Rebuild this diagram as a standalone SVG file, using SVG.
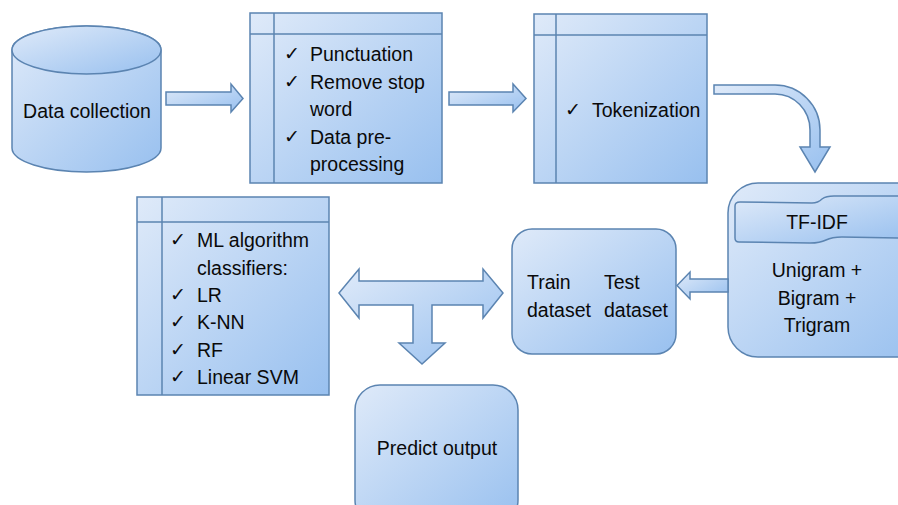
<svg xmlns="http://www.w3.org/2000/svg" width="898" height="505" viewBox="0 0 898 505">
<defs>
<linearGradient id="g" x1="0" y1="0" x2="1" y2="1">
<stop offset="0" stop-color="#dfeaf9"/>
<stop offset="1" stop-color="#98c0ef"/>
</linearGradient>
<style>
.s{fill:url(#g);stroke:#5b84b1;stroke-width:1.5}
.l{fill:none;stroke:#5b84b1;stroke-width:1.5}
.t{font-family:"Liberation Sans",Arial,sans-serif;font-size:19.5px;fill:#0a0a0a}
.c{font-family:"DejaVu Sans",sans-serif;font-size:19px;fill:#0a0a0a}
.m{text-anchor:middle}
</style>
</defs>
<rect width="898" height="505" fill="#ffffff"/>

<g id="data-collection">
<path class="s" d="M12,50 L12,148 A74.5,24 0 0 0 161,148 L161,50 A74.5,24 0 0 0 12,50 Z"/>
<ellipse class="s" cx="86.5" cy="50" rx="74.5" ry="24"/>
<text class="t m" x="87" y="118">Data collection</text>
</g>

<g id="preprocessing">
<rect class="s" x="250" y="13" width="192" height="170"/>
<line class="l" x1="274" y1="13" x2="274" y2="183"/>
<line class="l" x1="250" y1="34" x2="442" y2="34"/>
<text class="c" x="284" y="60">✓</text>
<text class="t" x="310" y="61">Punctuation</text>
<text class="c" x="284" y="88">✓</text>
<text class="t" x="310" y="89">Remove stop</text>
<text class="t" x="310" y="116">word</text>
<text class="c" x="284" y="143">✓</text>
<text class="t" x="310" y="144">Data pre-</text>
<text class="t" x="310" y="171">processing</text>
</g>

<g id="tokenization">
<rect class="s" x="534" y="14" width="173" height="169"/>
<line class="l" x1="556" y1="14" x2="556" y2="183"/>
<line class="l" x1="534" y1="35" x2="707" y2="35"/>
<text class="c" x="565" y="116">✓</text>
<text class="t" x="592" y="117">Tokenization</text>
</g>

<g id="tfidf">
<rect class="s" x="728" y="183" width="200" height="174" rx="30" ry="30"/>
<path class="s" d="M735,206 Q735,202 740,202 L812,203 Q818,203 822,199 Q826,196 834,196 L905,196 L905,238 L842,237 Q832,237 826,240 Q820,243 810,243 L739,242 Q735,242 735,238 Z"/>
<text class="t m" x="817" y="229">TF-IDF</text>
<text class="t m" x="817" y="277">Unigram +</text>
<text class="t m" x="817" y="305">Bigram +</text>
<text class="t m" x="817" y="332">Trigram</text>
</g>

<g id="train-test">
<rect class="s" x="512" y="229" width="164" height="125" rx="20" ry="20"/>
<text class="t" x="527" y="289">Train</text>
<text class="t" x="527" y="317">dataset</text>
<text class="t" x="604" y="289">Test</text>
<text class="t" x="604" y="317">dataset</text>
</g>

<g id="classifiers">
<rect class="s" x="137" y="197" width="192" height="198"/>
<line class="l" x1="162" y1="197" x2="162" y2="395"/>
<line class="l" x1="137" y1="222" x2="329" y2="222"/>
<text class="c" x="170" y="246">✓</text>
<text class="t" x="197" y="247">ML algorithm</text>
<text class="t" x="197" y="275">classifiers:</text>
<text class="c" x="170" y="301">✓</text>
<text class="t" x="197" y="302">LR</text>
<text class="c" x="170" y="328">✓</text>
<text class="t" x="197" y="329">K-NN</text>
<text class="c" x="170" y="356">✓</text>
<text class="t" x="197" y="357">RF</text>
<text class="c" x="170" y="383">✓</text>
<text class="t" x="197" y="384">Linear SVM</text>
</g>

<g id="predict-output">
<rect class="s" x="355" y="385" width="163" height="140" rx="25" ry="25"/>
<text class="t m" x="437" y="455">Predict output</text>
</g>

<g id="connectors">
<path class="s" d="M166,92 L231,92 L231,84 L243,98.5 L231,112 L231,105 L166,105 Z"/>
<path class="s" d="M449,92 L513,92 L513,84 L526,98.5 L513,112 L513,105 L449,105 Z"/>
<path class="s" d="M714,85 L775,85 A45,45 0 0 1 820,130 L820,147 L830,147 L815,172 L800,147 L810,147 L810,130 A35,36 0 0 0 775,94 L714,94 Z"/>
<path class="s" d="M728,279 L690,279 L690,272 L677,285.5 L690,299 L690,292 L728,292 Z"/>
<path class="s" d="M339,293 L359,269 L359,281 L483,281 L483,269 L503,293 L483,318 L483,305 L432,305 L432,343 L445,343 L422,364 L399,343 L413,343 L413,305 L359,305 L359,318 Z"/>
</g>
</svg>
